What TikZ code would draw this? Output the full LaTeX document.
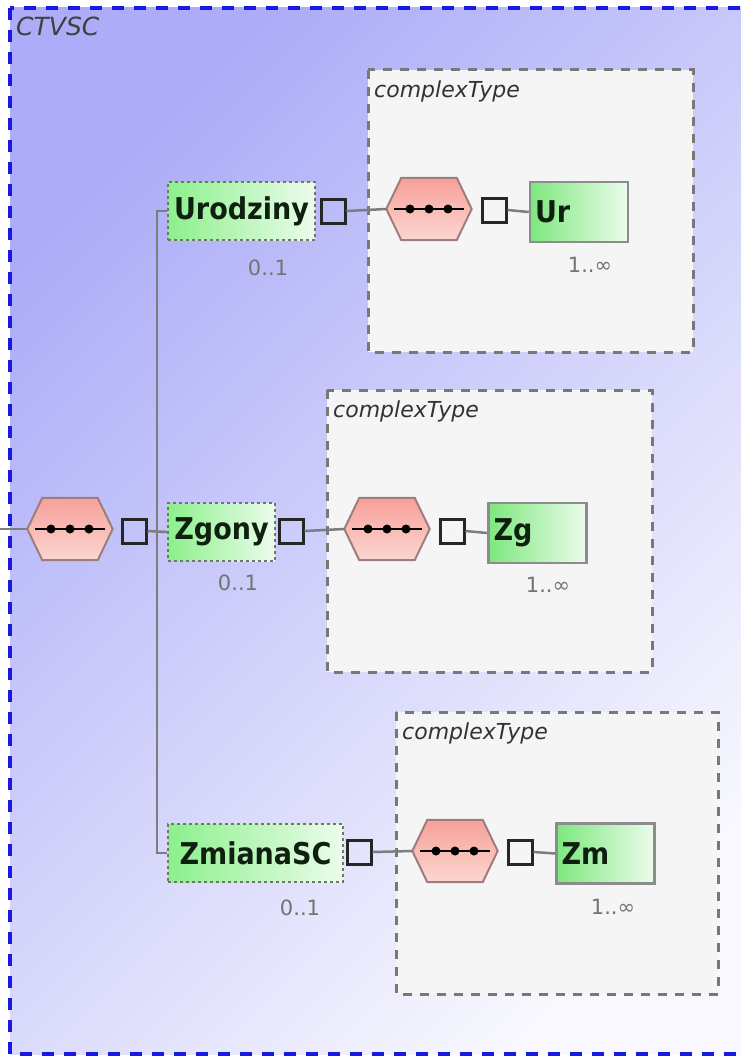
\documentclass[tikz,border=0pt]{standalone}
\usepackage{fontspec}
\setmainfont{DejaVu Sans}
\newfontfamily\condfont{DejaVu Sans Condensed}
\usetikzlibrary{calc}
\definecolor{frameblue}{RGB}{25,25,225}
\definecolor{bgdark}{RGB}{172,172,248}
\definecolor{bglight}{RGB}{248,248,254}
\definecolor{ctfill}{RGB}{245,245,245}
\definecolor{ctline}{RGB}{120,120,120}
\definecolor{conn}{RGB}{125,125,125}
\definecolor{greenA}{RGB}{125,232,125}
\definecolor{greenB}{RGB}{236,252,236}
\definecolor{greenC}{RGB}{140,240,140}
\definecolor{hexA}{RGB}{246,160,152}
\definecolor{hexB}{RGB}{252,214,210}
\definecolor{hexline}{RGB}{160,125,125}
\definecolor{txt}{RGB}{16,32,16}
\definecolor{mult}{RGB}{115,115,115}
\tikzset{
  outerframe/.style={draw=frameblue, line width=3.5pt, dash pattern=on 12pt off 10pt},
  ctbox/.style={draw=ctline, fill=ctfill, line width=3pt, dash pattern=on 9pt off 8pt},
  cttitle/.style={anchor=west, inner sep=0pt, font=\fontsize{22}{22}\selectfont\itshape, text=black!80},
  optelem/.style={draw=black!55, line width=2.5pt, dash pattern=on 3pt off 3pt, left color=greenC, right color=greenB,
     minimum height=58pt, inner sep=0pt, font=\condfont\bfseries\fontsize{30}{30}\selectfont, text=txt},
  reqelem/.style={draw=black!45, line width=2.5pt, left color=greenA, right color=greenB,
     minimum height=60pt, inner sep=5pt, text width=88pt, align=left, font=\condfont\bfseries\fontsize{30}{30}\selectfont, text=txt},
  hexnode/.style={draw=none, inner sep=0pt, minimum width=85pt, minimum height=62pt},
  hexshape/.style={draw=hexline, line width=2pt, top color=hexA, bottom color=hexB},
  sqbox/.style={draw=black!85, line width=3pt, minimum size=24pt, inner sep=0pt},
  conline/.style={draw=conn, line width=2.5pt},
  multlabel/.style={inner sep=0pt, font=\fontsize{21}{21}\selectfont, text=mult},
}
\newcommand{\seqhex}[3]{%
  \node[hexnode] (#1) at (#2,#3) {};
  \path[hexshape] (#1.west) -- ($(#1.north west)+(15,0)$) -- ($(#1.north east)+(-15,0)$) -- (#1.east)
     -- ($(#1.south east)+(-15,0)$) -- ($(#1.south west)+(15,0)$) -- cycle;
  \draw[line width=2.5pt] ($(#1)+(-35,0)$) -- ($(#1)+(35,0)$);
  \fill ($(#1)+(-19,0)$) circle (4.5pt) ($(#1)$) circle (4.5pt) ($(#1)+(19,0)$) circle (4.5pt);
}
\begin{document}
\begin{tikzpicture}[x=1pt,y=-1pt]
\clip (0,0) rectangle (741,1057);
% outer frame
\shade[left color=bgdark, right color=bglight, shading angle=45] (10,8) rectangle (770,1054);
\draw[outerframe] (10,8) rectangle (770,1054);
\node[anchor=west, inner sep=0pt, font=\fontsize{25}{25}\selectfont\itshape, text=black!75] (title) at (16,26) {CTVSC};

% complexType boxes
\draw[ctbox] (368,70) rectangle (693,352);
\node[cttitle] (ct1) at (374,91) {complexType};
\draw[ctbox] (327,390) rectangle (652,672);
\node[cttitle] (ct2) at (333,411) {complexType};
\draw[ctbox] (396,712) rectangle (718,994);
\node[cttitle] (ct3) at (402,733) {complexType};

% root sequence
\coordinate (in) at (0,529);
\seqhex{root}{70}{529}
\node[sqbox] (sq0) at (134,531) {};

% level 1 elements
\node[optelem, minimum width=147pt] (uro) at (241.5,211) {Urodziny};
\node[optelem, minimum width=107pt] (zgo) at (221.5,532) {Zgony};
\node[optelem, minimum width=175pt] (zmi) at (255.5,853) {ZmianaSC};
\node[multlabel] (m1) at (268,268) {0..1};
\node[multlabel] (m2) at (238,583) {0..1};
\node[multlabel] (m3) at (300,908) {0..1};

\node[sqbox] (sq1) at (333,211) {};
\node[sqbox] (sq2) at (291,531) {};
\node[sqbox] (sq3) at (359,852) {};

% inner sequences
\seqhex{hex1}{429}{209}
\seqhex{hex2}{387}{529}
\seqhex{hex3}{455}{851}
\node[sqbox] (sq4) at (494,210) {};
\node[sqbox] (sq5) at (452,531) {};
\node[sqbox] (sq6) at (520,852) {};

\node[reqelem] (ur) at (579,212) {Ur};
\node[reqelem] (zg) at (537.5,533) {Zg};
\node[reqelem] (zm) at (605.5,853.5) {Zm};
\node[multlabel] (m4) at (590,265) {1..∞};
\node[multlabel] (m5) at (548,585) {1..∞};
\node[multlabel] (m6) at (613,907) {1..∞};

% connectors
\coordinate (ttop) at (157,211);
\coordinate (tbot) at (157,853);
\draw[conline] (in) -- (root.west);
\draw[conline] (sq0.east) -- (zgo.west);
\draw[conline] (uro.west) -- (ttop) -- (tbot) -- (zmi.west);
\draw[conline] (sq1.east) -- (hex1.west);
\draw[conline] (sq2.east) -- (hex2.west);
\draw[conline] (sq3.east) -- (hex3.west);
\draw[conline] (sq4.east) -- (ur.west);
\draw[conline] (sq5.east) -- (zg.west);
\draw[conline] (sq6.east) -- (zm.west);
\end{tikzpicture}
\end{document}
